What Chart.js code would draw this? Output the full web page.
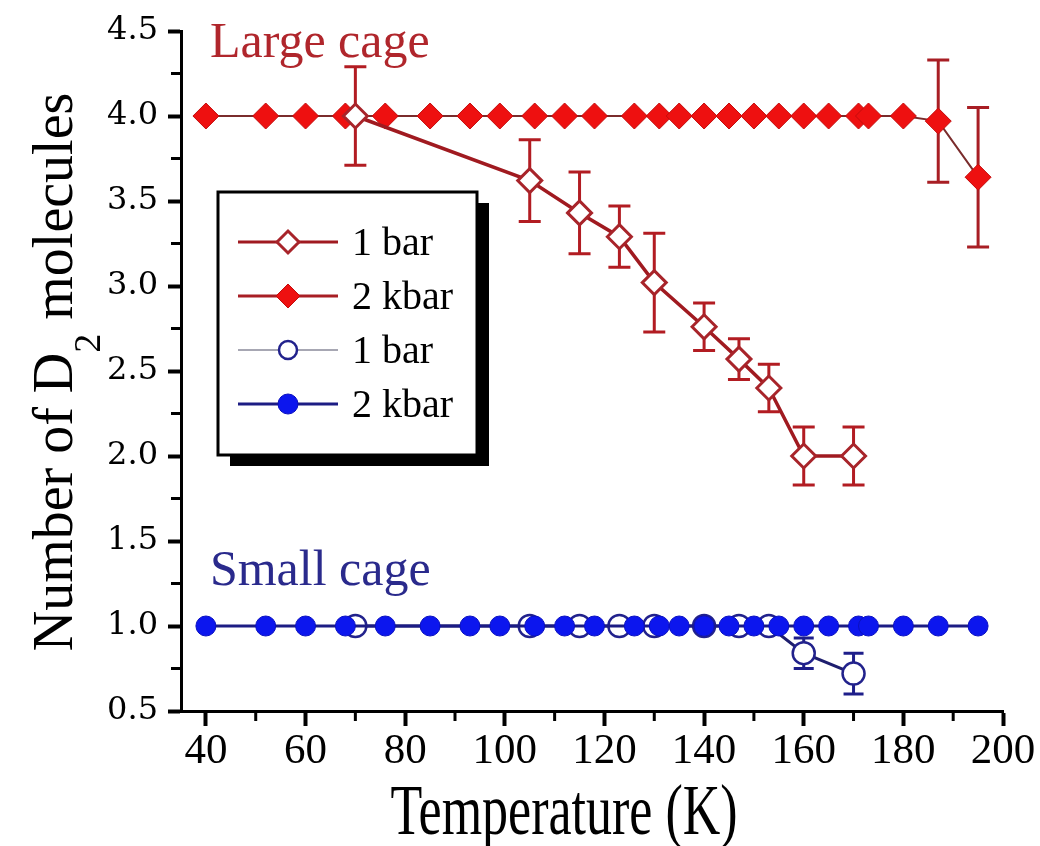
<!DOCTYPE html>
<html>
<head>
<meta charset="utf-8">
<title>D2 cage occupancy</title>
<script src="https://cdn.jsdelivr.net/npm/chart.js@4.4.1/dist/chart.umd.min.js"></script>
<style>
  html, body { margin: 0; padding: 0; background: #fff; }
  #wrap { width: 1040px; height: 846px; }
</style>
</head>
<body>
<div id="wrap"><canvas id="cageChart" width="1040" height="846"></canvas></div>
<script>
// temperatures (K)
const temps2kbar = [40, 52, 60, 68, 76, 85, 93, 99, 106, 112, 118, 126, 131, 135, 140, 145, 150, 155, 160, 165, 171, 173, 180, 187, 195];
const temps1bar = [70, 105, 115, 123, 130, 140, 147, 153, 160, 170];

// large cage occupancy
const large2kbar = [4.0, 4.0, 4.0, 4.0, 4.0, 4.0, 4.0, 4.0, 4.0, 4.0, 4.0, 4.0, 4.0, 4.0, 4.0, 4.0, 4.0, 4.0, 4.0, 4.0, 4.0, 4.0, 4.0, 3.97, 3.64];
const large2kbarErr = [0, 0, 0, 0, 0, 0, 0, 0, 0, 0, 0, 0, 0, 0, 0, 0, 0, 0, 0, 0, 0, 0, 0, 0.36, 0.41];
const large1bar = [4.00, 3.62, 3.43, 3.29, 3.02, 2.76, 2.57, 2.40, 2.00, 2.00];
const large1barErr = [0.29, 0.24, 0.24, 0.18, 0.29, 0.14, 0.12, 0.14, 0.17, 0.17];

// small cage occupancy
const small2kbar = [1.0, 1.0, 1.0, 1.0, 1.0, 1.0, 1.0, 1.0, 1.0, 1.0, 1.0, 1.0, 1.0, 1.0, 1.0, 1.0, 1.0, 1.0, 1.0, 1.0, 1.0, 1.0, 1.0, 1.0, 1.0];
const small1bar = [1.00, 1.00, 1.00, 1.00, 1.00, 1.00, 1.00, 1.00, 0.84, 0.72];
const small1barErr = [0, 0, 0, 0, 0, 0, 0.03, 0.03, 0.09, 0.12];

const xTicks = [40, 60, 80, 100, 120, 140, 160, 180, 200];
const yTicks = [0.5, 1.0, 1.5, 2.0, 2.5, 3.0, 3.5, 4.0, 4.5];
const seriesLabels = ['1 bar', '2 kbar', '1 bar', '2 kbar'];

const SERIF = '"Liberation Serif", "Times New Roman", Times, serif';

function toPoints(xs, ys) {
  return xs.map((x, i) => ({ x: x, y: ys[i] }));
}

// vertical error bars, drawn just under each dataset's line and markers
const errorBars = {
  id: 'errorBars',
  beforeDatasetDraw(chart, args) {
    const ds = chart.data.datasets[args.index];
    if (!ds.errors) return;
    const ctx = chart.ctx;
    const xs = chart.scales.x;
    const ys = chart.scales.y;
    ctx.save();
    ctx.strokeStyle = ds.errorColor;
    ctx.lineWidth = 3;
    ds.data.forEach((p, i) => {
      const e = ds.errors[i];
      if (!e) return;
      const px = xs.getPixelForValue(p.x);
      const top = ys.getPixelForValue(p.y + e);
      const bot = ys.getPixelForValue(p.y - e);
      const cap = ds.errorCap;
      ctx.beginPath();
      ctx.moveTo(px, top);
      ctx.lineTo(px, bot);
      ctx.moveTo(px - cap, top);
      ctx.lineTo(px + cap, top);
      ctx.moveTo(px - cap, bot);
      ctx.lineTo(px + cap, bot);
      ctx.stroke();
    });
    ctx.restore();
  }
};

// short minor ticks half way between the labelled ones
const minorTicks = {
  id: 'minorTicks',
  afterDraw(chart) {
    const ctx = chart.ctx;
    const xs = chart.scales.x;
    const ys = chart.scales.y;
    const area = chart.chartArea;
    ctx.save();
    ctx.strokeStyle = '#000';
    ctx.lineWidth = 3;
    ctx.beginPath();
    for (let i = 0; i < xTicks.length - 1; i++) {
      const px = xs.getPixelForValue((xTicks[i] + xTicks[i + 1]) / 2);
      ctx.moveTo(px, area.bottom);
      ctx.lineTo(px, area.bottom + 10);
    }
    for (let i = 0; i < yTicks.length - 1; i++) {
      const py = ys.getPixelForValue((yTicks[i] + yTicks[i + 1]) / 2);
      ctx.moveTo(area.left, py);
      ctx.lineTo(area.left - 10, py);
    }
    ctx.stroke();
    ctx.restore();
  }
};

// axis titles (the y title needs a lowered "2")
const axisTitles = {
  id: 'axisTitles',
  afterDraw(chart) {
    const ctx = chart.ctx;
    const area = chart.chartArea;
    ctx.save();
    ctx.fillStyle = '#000';
    ctx.textBaseline = 'alphabetic';

    // x title, set a bit tall like the original typeface
    ctx.save();
    ctx.translate((area.left + area.right) / 2 - 28, 834);
    ctx.scale(1, 1.38);
    ctx.font = '52px ' + SERIF;
    ctx.textAlign = 'center';
    ctx.fillText('Temperature (K)', 0, 0);
    ctx.restore();

    // y title
    ctx.save();
    ctx.translate(72, 372);
    ctx.rotate(-Math.PI / 2);
    ctx.textAlign = 'left';
    const bigFont = '56px ' + SERIF;
    const subFont = '38px ' + SERIF;
    ctx.font = bigFont;
    const w1 = ctx.measureText('Number of D').width;
    const w3 = ctx.measureText(' molecules').width;
    ctx.font = subFont;
    const w2 = ctx.measureText('2').width;
    let x0 = -(w1 + w2 + w3) / 2;
    ctx.font = bigFont;
    ctx.fillText('Number of D', x0, 0);
    ctx.font = subFont;
    ctx.fillText('2', x0 + w1, 28);
    ctx.font = bigFont;
    ctx.fillText(' molecules', x0 + w1 + w2, 0);
    ctx.restore();

    ctx.restore();
  }
};

// "Large cage" / "Small cage" captions placed in data coordinates
const cageLabels = {
  id: 'cageLabels',
  afterDatasetsDraw(chart, args, opts) {
    const ctx = chart.ctx;
    ctx.save();
    ctx.font = '50px ' + SERIF;
    ctx.textAlign = 'left';
    ctx.textBaseline = 'alphabetic';
    opts.items.forEach(item => {
      ctx.fillStyle = item.color;
      ctx.fillText(item.text, chart.scales.x.getPixelForValue(item.x), chart.scales.y.getPixelForValue(item.y));
    });
    ctx.restore();
  }
};

// boxed legend with drop shadow, line + marker + text per row
const boxLegend = {
  id: 'boxLegend',
  afterDraw(chart, args, opts) {
    const ctx = chart.ctx;
    const b = opts.box;
    const w = b.right - b.left;
    const h = b.bottom - b.top;
    ctx.save();
    ctx.fillStyle = '#000';
    ctx.fillRect(b.left + 12, b.top + 11, w, h);
    ctx.fillStyle = '#fff';
    ctx.fillRect(b.left, b.top, w, h);
    ctx.strokeStyle = '#000';
    ctx.lineWidth = 3;
    ctx.strokeRect(b.left, b.top, w, h);

    opts.rows.forEach((dsIndex, i) => {
      const ds = chart.data.datasets[dsIndex];
      const cy = b.firstRow + i * b.rowGap;
      const cx = (b.lineStart + b.lineEnd) / 2;
      ctx.strokeStyle = ds.legendLineColor || ds.borderColor;
      ctx.lineWidth = ds.legendLineWidth || ds.borderWidth;
      ctx.beginPath();
      ctx.moveTo(b.lineStart, cy);
      ctx.lineTo(b.lineEnd, cy);
      ctx.stroke();

      ctx.fillStyle = ds.pointBackgroundColor;
      ctx.strokeStyle = ds.pointBorderColor;
      ctx.lineWidth = ds.pointBorderWidth;
      Chart.helpers.drawPoint(ctx, {
        pointStyle: ds.pointStyle,
        radius: ds.legendRadius,
        rotation: 0,
        borderWidth: ds.pointBorderWidth
      }, cx, cy);

      ctx.fillStyle = '#000';
      ctx.font = '40px ' + SERIF;
      ctx.textAlign = 'left';
      ctx.textBaseline = 'middle';
      ctx.fillText(ds.label, b.textX, cy + 2);
    });
    ctx.restore();
  }
};

const ctx = document.getElementById('cageChart');

new Chart(ctx, {
  type: 'line',
  data: {
    datasets: [
      {
        label: seriesLabels[0],
        data: toPoints(temps1bar, large1bar),
        errors: large1barErr,
        errorColor: '#b21c22',
        errorCap: 11,
        borderColor: '#a01a20',
        borderWidth: 3.5,
        legendLineWidth: 3,
        pointStyle: 'rectRot',
        pointRadius: 12,
        legendRadius: 11,
        pointBackgroundColor: '#ffffff',
        pointBorderColor: '#a8242a',
        pointBorderWidth: 3
      },
      {
        label: seriesLabels[1],
        data: toPoints(temps2kbar, large2kbar),
        errors: large2kbarErr,
        errorColor: '#a81e24',
        errorCap: 11,
        borderColor: '#7a2c2c',
        borderWidth: 2,
        legendLineColor: '#a81e24',
        legendLineWidth: 3,
        pointStyle: 'rectRot',
        pointRadius: 13,
        legendRadius: 12,
        pointBackgroundColor: '#ee1010',
        pointBorderColor: '#c40c0c',
        pointBorderWidth: 1
      },
      {
        label: seriesLabels[3],
        data: toPoints(temps2kbar, small2kbar),
        borderColor: '#1c1c84',
        borderWidth: 3,
        pointStyle: 'circle',
        pointRadius: 10,
        legendRadius: 10,
        pointBackgroundColor: '#0c16ee',
        pointBorderColor: '#0a10c0',
        pointBorderWidth: 1
      },
      {
        label: seriesLabels[2],
        data: toPoints(temps1bar, small1bar),
        errors: small1barErr,
        errorColor: '#1e1e8a',
        errorCap: 10,
        borderColor: '#1e1e6e',
        borderWidth: 3,
        legendLineColor: '#8a8a9a',
        legendLineWidth: 1.5,
        pointStyle: 'circle',
        pointRadius: 11,
        legendRadius: 9,
        pointBackgroundColor: '#ffffff',
        pointBorderColor: '#22228c',
        pointBorderWidth: 2.5
      }
    ]
  },
  options: {
    responsive: false,
    animation: false,
    devicePixelRatio: 1,
    events: [],
    layout: {
      padding: { top: 31, right: 37, bottom: 0, left: 0 }
    },
    scales: {
      x: {
        type: 'linear',
        min: 35,
        max: 200,
        afterBuildTicks: scale => { scale.ticks = xTicks.map(v => ({ value: v })); },
        afterFit: scale => { scale.height = 135; },
        border: { display: true, color: '#000', width: 3 },
        grid: { drawOnChartArea: false, drawTicks: true, tickLength: 15, tickWidth: 4, tickColor: '#000' },
        ticks: {
          padding: 0,
          color: '#000',
          maxRotation: 0,
          autoSkip: false,
          font: { family: SERIF, size: 43 }
        }
      },
      y: {
        type: 'linear',
        min: 0.5,
        max: 4.5,
        afterBuildTicks: scale => { scale.ticks = yTicks.map(v => ({ value: v })); },
        afterFit: scale => { scale.width = 181; },
        border: { display: true, color: '#000', width: 3 },
        grid: { drawOnChartArea: false, drawTicks: true, tickLength: 13, tickWidth: 4, tickColor: '#000' },
        ticks: {
          padding: 10,
          color: '#000',
          autoSkip: false,
          font: { family: '"DejaVu Serif", serif', size: 32 },
          callback: v => v.toFixed(1)
        }
      }
    },
    plugins: {
      legend: { display: false },
      tooltip: { enabled: false },
      cageLabels: {
        items: [
          { text: 'Large cage', x: 40.8, y: 4.35, color: '#b0262c' },
          { text: 'Small cage', x: 40.8, y: 1.24, color: '#2a2a8c' }
        ]
      },
      boxLegend: {
        box: { left: 218, top: 192, right: 477, bottom: 455, firstRow: 242, rowGap: 54, lineStart: 238, lineEnd: 338, textX: 352 },
        rows: [0, 1, 3, 2]
      }
    }
  },
  plugins: [errorBars, minorTicks, axisTitles, cageLabels, boxLegend]
});
</script>
</body>
</html>
